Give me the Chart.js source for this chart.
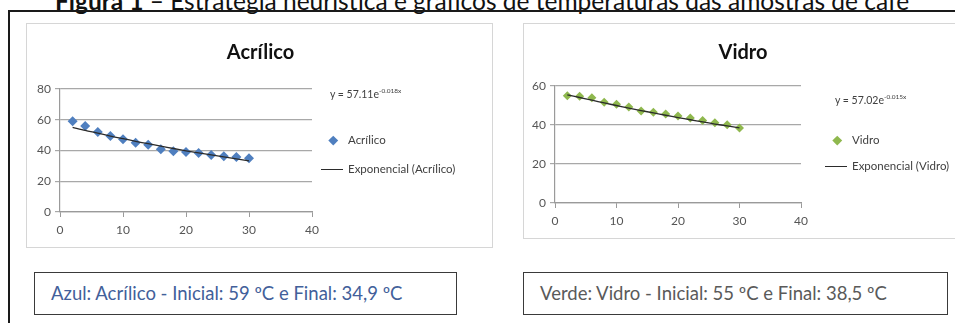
<!DOCTYPE html>
<html lang="pt">
<head>
<meta charset="utf-8">
<script src="https://cdn.jsdelivr.net/npm/chart.js@4.4.1/dist/chart.umd.min.js"></script>
<style>
  body { margin: 0; width: 955px; height: 323px; overflow: hidden; background: #fff; position: relative; font-family: Lato, "Open Sans", sans-serif; }
  .caption { position: absolute; left: 55px; top: -11px; font-size: 24.5px; line-height: 24px; color: #111; white-space: nowrap; }
  .frame { position: absolute; left: 8px; top: 10px; width: 1000px; height: 400px; border-left: 2px solid #1a1a1a; border-top: 2px solid #1a1a1a; }
  .panel { position: absolute; border: 1.5px solid #d6d6d6; box-sizing: border-box; }
  .panel canvas { position: absolute; left: 0; top: 0; }
  .eq { position: absolute; font-size: 10.5px; color: #404040; white-space: nowrap; }
  .eq sup { font-size: 6.5px; }
  .leg { position: absolute; font-size: 11.5px; color: #404040; white-space: nowrap; line-height: 14px; }
  .dia { position: absolute; width: 6.5px; height: 6.5px; transform: rotate(45deg); }
  .ln { position: absolute; width: 22px; height: 1.4px; background: #2b2b2b; }
  .box { position: absolute; height: 43px; border: 1.5px solid #3a3a3a; box-sizing: border-box; font-size: 18.5px; line-height: 40px; padding-left: 16px; white-space: nowrap; }
</style>
</head>
<body>
<div class="caption"><b>Figura 1</b> – Estratégia heurística e gráficos de temperaturas das amostras de café</div>
<div class="frame"></div>

<div class="panel" style="left:26px; top:23px; width:467px; height:225px;">
  <canvas id="chartAcrilico" width="467" height="225"></canvas>
</div>
<div class="eq" style="left:330px; top:87px;">y = 57.11e<sup>-0.018x</sup></div>
<div class="dia" style="left:329.5px; top:136.5px; background:#4f7fbf;"></div>
<div class="leg" style="left:348px; top:133px;">Acrílico</div>
<div class="ln" style="left:321px; top:168.5px;"></div>
<div class="leg" style="left:348px; top:162px;">Exponencial (Acrílico)</div>

<div class="panel" style="left:523px; top:23px; width:438px; height:216px;">
  <canvas id="chartVidro" width="438" height="216"></canvas>
</div>
<div class="eq" style="left:835px; top:93px;">y = 57.02e<sup>-0.015x</sup></div>
<div class="dia" style="left:833.5px; top:136.5px; background:#8fb84e;"></div>
<div class="leg" style="left:852px; top:133px;">Vidro</div>
<div class="ln" style="left:825px; top:165.5px;"></div>
<div class="leg" style="left:852px; top:159px;">Exponencial (Vidro)</div>

<div class="box" style="left:34px; top:272px; width:423px; color:#42609a;">Azul: Acrílico - Inicial: 59 ºC e Final: 34,9 ºC</div>
<div class="box" style="left:523px; top:272px; width:425px; color:#5a5a5a;">Verde: Vidro - Inicial: 55 ºC e Final: 38,5 ºC</div>

<script>
// tempo (min) e temperaturas
const tempos = [2, 4, 6, 8, 10, 12, 14, 16, 18, 20, 22, 24, 26, 28, 30];
const acrilico = [59, 56, 52, 49.5, 47.3, 45.1, 43.8, 40.8, 39.5, 39, 38.4, 37.1, 36.3, 35.8, 34.9];
const vidro = [55, 54.8, 54, 51.7, 50.7, 49.2, 47.2, 46.6, 45.6, 44.6, 43.6, 42.3, 41.1, 40.1, 38.5];
// linha de tendência exponencial
const tendAcrilico = [55.1, 53.1, 51.3, 49.4, 47.7, 46.0, 44.4, 42.8, 41.3, 39.8, 38.4, 37.1, 35.8, 34.5, 33.3];
const tendVidro = [55.5, 54.1, 52.7, 51.3, 50.0, 48.7, 47.4, 46.2, 45.0, 43.8, 42.7, 41.6, 40.5, 39.5, 38.5];
const xTicks = [0, 10, 20, 30, 40];
const yTicksAcrilico = [0, 20, 40, 60, 80];
const yTicksVidro = [0, 20, 40, 60];

const FONT = 'Lato, "Open Sans", sans-serif';

function pontos(xs, ys) {
    return xs.map((x, i) => ({ x: x, y: ys[i] }));
}

function makeChart(id, cfg) {
    const ctx = document.getElementById(id).getContext('2d');
    return new Chart(ctx, {
        type: 'scatter',
        data: {
            datasets: [{
                label: cfg.nome,
                data: pontos(tempos, cfg.valores),
                pointStyle: 'rectRot',
                pointRadius: cfg.raio,
                backgroundColor: cfg.cor,
                borderColor: cfg.cor,
                borderWidth: 0,
                order: 1
            }, {
                label: 'Exponencial (' + cfg.nome + ')',
                data: pontos(tempos, cfg.tendencia),
                showLine: true,
                pointRadius: 0,
                borderColor: '#2b2b2b',
                borderWidth: 1.3,
                tension: 0.3,
                order: 0
            }]
        },
        options: {
            responsive: false,
            animation: false,
            layout: { padding: 0 },
            plugins: {
                title: {
                    display: true,
                    text: cfg.nome,
                    color: '#111',
                    font: { family: FONT, size: 20, weight: 'bold' },
                    padding: { top: cfg.titleTop, bottom: cfg.titleBottom }
                },
                legend: { display: false },  // legenda em HTML ao lado
                tooltip: { enabled: false }
            },
            scales: {
                x: {
                    type: 'linear',
                    min: 0, max: 40,
                    afterBuildTicks: s => { s.ticks = xTicks.map(v => ({ value: v })); },
                    afterFit: s => { s.height = cfg.xHeight; },
                    grid: { drawOnChartArea: false, drawTicks: true, tickLength: 5, color: '#9a9a9a' },
                    border: { color: '#9a9a9a', width: 1.2 },
                    ticks: { color: '#555', padding: 6, font: { family: FONT, size: 12 } }
                },
                y: {
                    min: 0, max: cfg.yMax,
                    afterBuildTicks: s => { s.ticks = cfg.yTicks.map(v => ({ value: v })); },
                    afterFit: s => { s.width = cfg.yWidth; },
                    grid: { color: '#a8a8a8', lineWidth: 1.2, tickLength: 5 },
                    border: { color: '#9a9a9a', width: 1.2 },
                    ticks: { color: '#555', padding: 4, font: { family: FONT, size: 12 } }
                },
                // eixo vazio à direita: reserva o espaço da legenda
                espaco: {
                    type: 'linear',
                    position: 'right',
                    grid: { display: false },
                    border: { display: false },
                    ticks: { display: false },
                    afterFit: s => { s.width = cfg.legWidth; }
                }
            }
        }
    });
}

makeChart('chartAcrilico', {
    nome: 'Acrílico', valores: acrilico, tendencia: tendAcrilico,
    cor: '#4f7fbf', raio: 5, yMax: 80, yTicks: yTicksAcrilico,
    titleTop: 17, titleBottom: 24, xHeight: 37, yWidth: 33, legWidth: 182
});
makeChart('chartVidro', {
    nome: 'Vidro', valores: vidro, tendencia: tendVidro,
    cor: '#8fb84e', raio: 4.5, yMax: 60, yTicks: yTicksVidro,
    titleTop: 17, titleBottom: 21, xHeight: 37, yWidth: 31, legWidth: 161
});
</script>
</body>
</html>
